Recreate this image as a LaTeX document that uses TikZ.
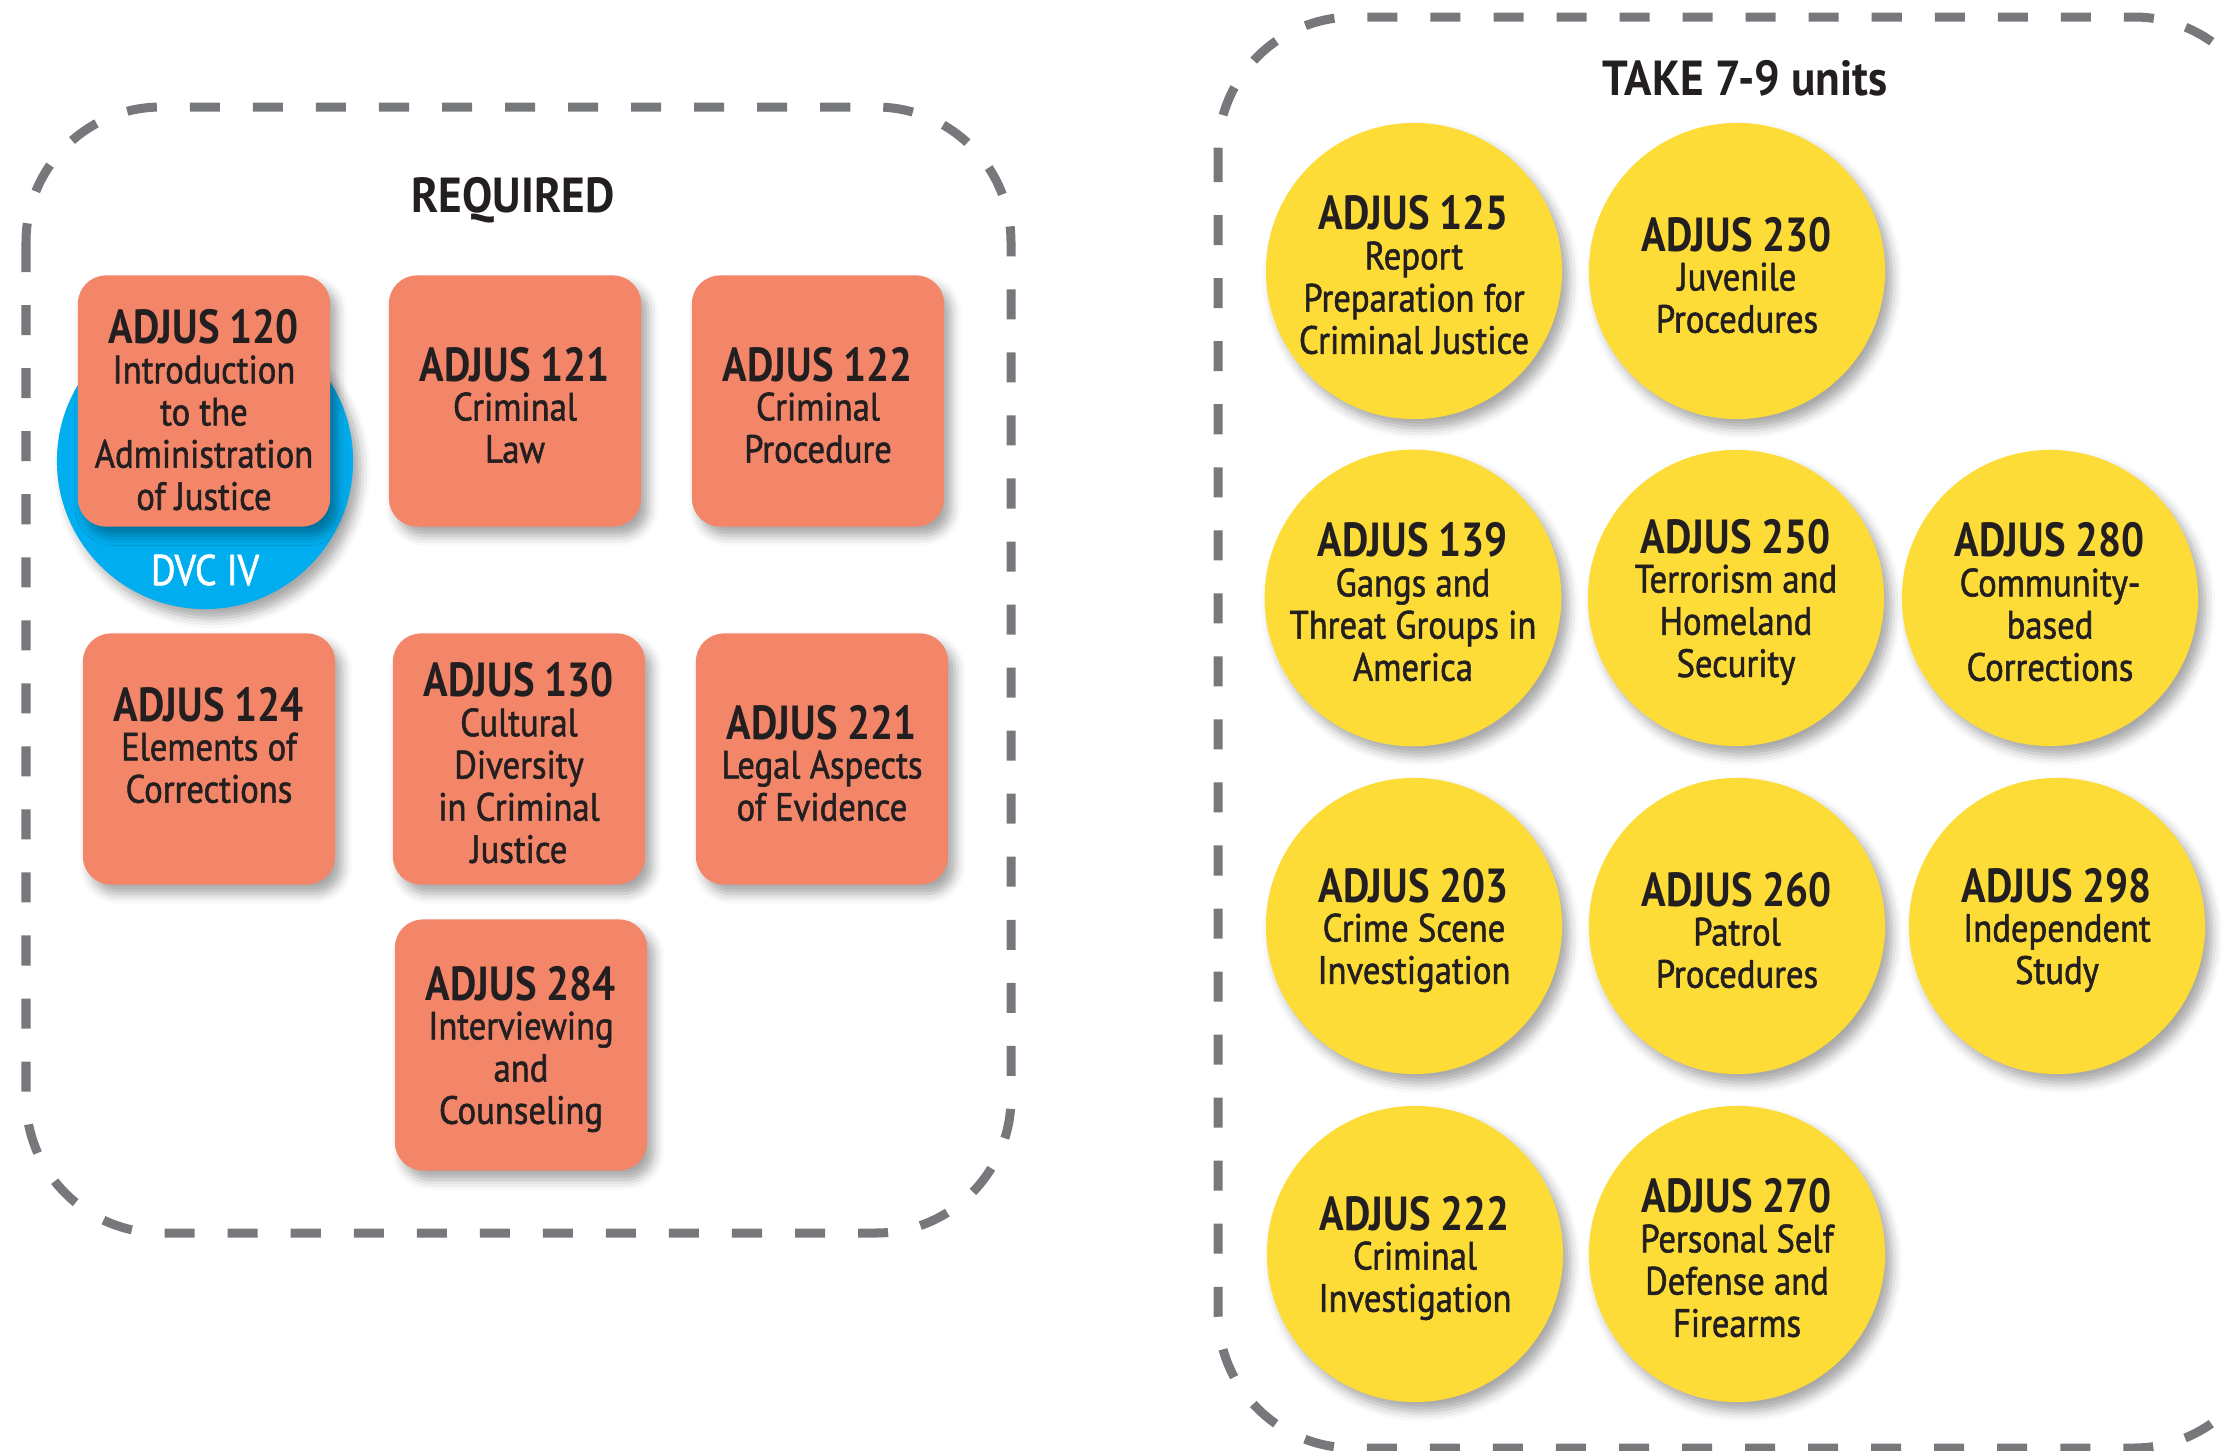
\documentclass[tikz,border=0pt]{standalone}
\usepackage{fontspec}
\setmainfont{PT Sans}[FakeStretch=0.92]
\newfontfamily\hdfont{PT Sans Bold}[FakeStretch=0.85]
\newfontfamily\ttlfont{PT Sans Bold}[FakeStretch=0.92]
\newfontfamily\txfont{PT Sans}[FakeStretch=0.88, FakeBold=1.4]
\usetikzlibrary{shadows.blur}
\definecolor{salmon}{RGB}{243,134,105}
\definecolor{sun}{RGB}{253,220,55}
\definecolor{sky}{RGB}{0,174,239}
\definecolor{frameg}{RGB}{119,120,123}
\definecolor{ink}{RGB}{35,31,32}
\newcommand{\hd}[1]{{\hdfont\fontsize{13.6}{12}\selectfont\rule{0pt}{12pt}#1}\\[-0.8pt]}
\begin{document}
\begin{tikzpicture}[x=0.01cm, y=-0.01cm,
    course/.style = {fill=salmon, rounded corners=0.28cm, minimum width=2.52cm, minimum height=2.51cm, inner sep=0pt, align=center, text=ink,
      font=\txfont\fontsize{11.2}{12}\selectfont, blur shadow={shadow xshift=0.07cm, shadow yshift=-0.09cm, shadow blur radius=0.1cm, shadow opacity=35}},
    option/.style = {circle, fill=sun, minimum size=2.96cm, inner sep=0pt, align=center, text=ink,
      font=\txfont\fontsize{11.2}{12}\selectfont, blur shadow={shadow xshift=0.07cm, shadow yshift=-0.09cm, shadow blur radius=0.1cm, shadow opacity=35}},
    frame/.style = {draw=frameg, line width=0.09cm, dash pattern=on 0.3cm off 0.33cm, rounded corners=1.35cm},
    heading/.style = {text=ink, font=\ttlfont\fontsize{14}{14}\selectfont}]
    \useasboundingbox (0,0) rectangle (2232,1451);

    % required
    \draw[frame] (26,107) rectangle (1011,1233);
    \node[heading] (req) at (513,200) {REQUIRED};
    \node[circle, fill=sky, minimum size=2.96cm, blur shadow={shadow xshift=0.07cm, shadow yshift=-0.09cm, shadow blur radius=0.1cm, shadow opacity=35}] (dvc) at (205,461) {};
    \node[text=white, font=\txfont\fontsize{12.2}{12}\selectfont] (dvclabel) at (205,570) {DVC IV};
    \node[course] (c120) at (204,401) {};
    \node (c120t) at (204,406) [align=center, text=ink, font=\txfont\fontsize{11.2}{12}\selectfont] {\hd{ADJUS 120}Introduction\\to the\\Administration\\of Justice};
    \node[course] (c121) at (515,401) {\hd{ADJUS 121}Criminal\\Law};
    \node[course] (c122) at (818,401) {\hd{ADJUS 122}Criminal\\Procedure};
    \node[course] (c124) at (209,759) {};
    \node (c124t) at (209,741) [align=center, text=ink, font=\txfont\fontsize{11.2}{12}\selectfont] {\hd{ADJUS 124}Elements of\\Corrections};
    \node[course] (c130) at (519,759) {\hd{ADJUS 130}Cultural\\Diversity\\in Criminal\\Justice};
    \node[course] (c221) at (822,759) {\hd{ADJUS 221}Legal Aspects\\of Evidence};
    \node[course] (c284) at (521,1045) {\hd{ADJUS 284}Interviewing\\and\\Counseling};

    % electives
    \draw[frame] (1218,17) rectangle (2269,1448);
    \node[heading] (take) at (1745,78) {TAKE 7-9 units};
    \node[option] (c125) at (1414,271) {\hd{ADJUS 125}Report\\Preparation for\\Criminal Justice};
    \node[option] (c230) at (1737,271) {\hd{ADJUS 230}Juvenile\\Procedures};
    \node[option] (c139) at (1413,598) {\hd{ADJUS 139}Gangs and\\Threat Groups in\\America};
    \node[option] (c250) at (1736,598) {\hd{ADJUS 250}Terrorism and\\Homeland\\Security};
    \node[option] (c280) at (2050,598) {\hd{ADJUS 280}Community-\\based\\Corrections};
    \node[option] (c203) at (1414,926) {\hd{ADJUS 203}Crime Scene\\Investigation};
    \node[option] (c260) at (1737,926) {\hd{ADJUS 260}Patrol\\Procedures};
    \node[option] (c298) at (2057,926) {\hd{ADJUS 298}Independent\\Study};
    \node[option] (c222) at (1415,1254) {\hd{ADJUS 222}Criminal\\Investigation};
    \node[option] (c270) at (1737,1254) {\hd{ADJUS 270}Personal Self\\Defense and\\Firearms};
\end{tikzpicture}
\end{document}
